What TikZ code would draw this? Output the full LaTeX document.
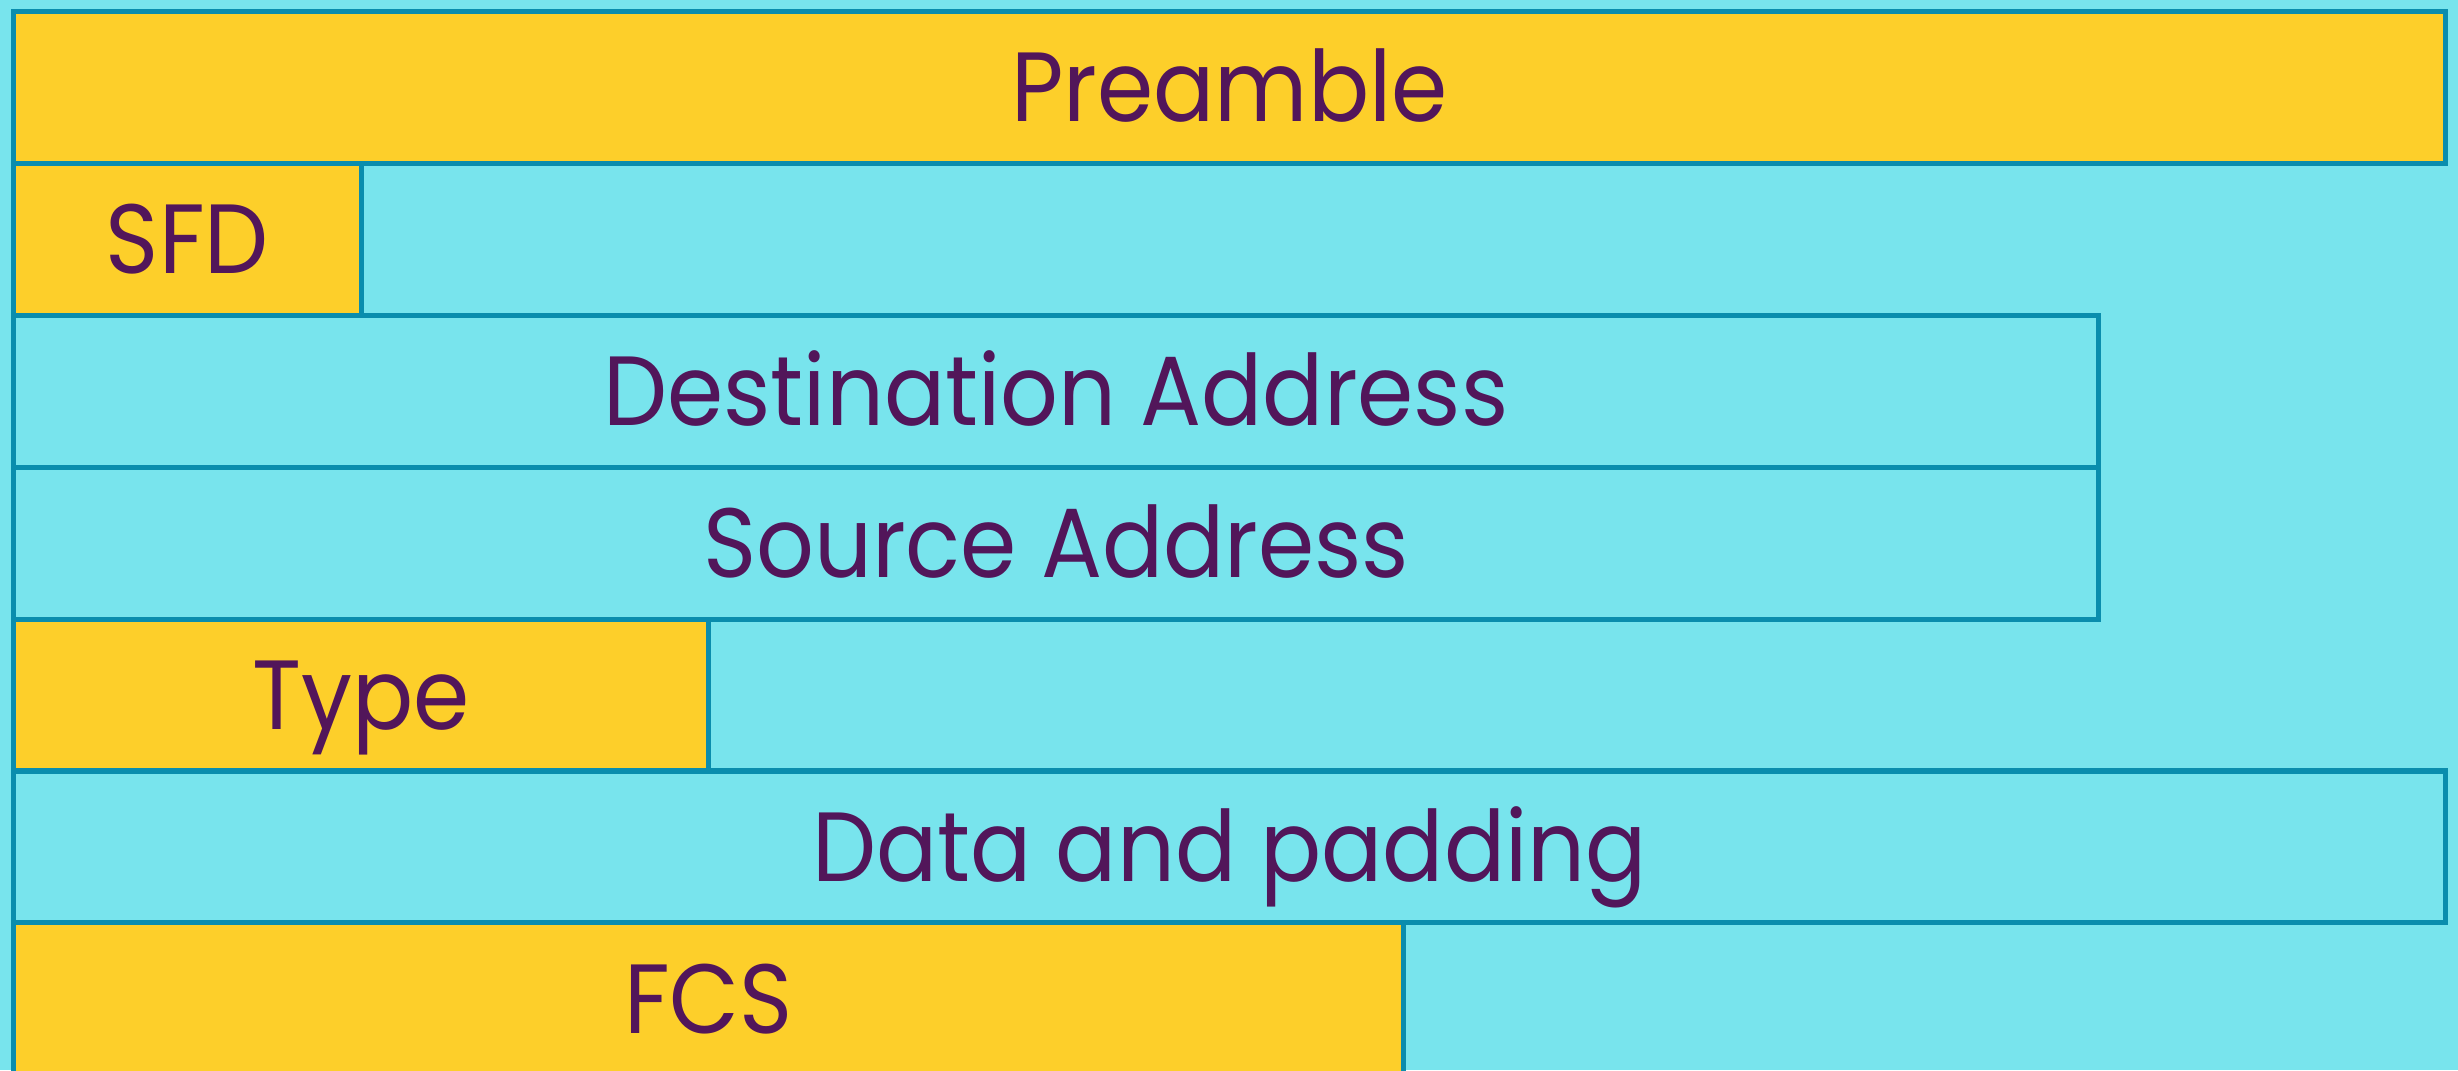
\documentclass[tikz,border=0pt]{standalone}
\usepackage{fontspec}
\setmainfont[FakeStretch=0.92]{Poppins}
\usetikzlibrary{positioning}

\definecolor{frameblue}{HTML}{0A8DAD}
\definecolor{fieldgold}{HTML}{FDCF2A}
\definecolor{fieldcyan}{HTML}{78E4ED}
\definecolor{labelpurple}{HTML}{52165A}

\tikzset{
    field/.style ={rectangle, draw=frameblue, line width=0.05cm, outer sep=0pt, inner sep=0pt,
        minimum height=1.519cm, text=labelpurple, font=\fontsize{28}{30}\selectfont,
        text height=0.69cm, text depth=0pt, anchor=north west},
    fixed/.style ={field, fill=fieldgold},
    var/.style ={field, fill=fieldcyan}
}

\begin{document}
\begin{tikzpicture}
    \useasboundingbox (0,0) rectangle (24.58,10.70);
    \clip (0,0) rectangle (24.58,10.70);
    \fill[fieldcyan] (0,0) rectangle (24.58,10.70);

    % frame fields, one row each
    \node[fixed, minimum width=24.32cm] (pre) at (0.135,10.585) {Preamble};
    \node[fixed, minimum width=3.475cm, below=0pt of pre.south west, anchor=north west] (sfd) {SFD};
    \node[var, minimum width=20.85cm, below=0pt of sfd.south west, anchor=north west] (dst) {Destination Address};
    \node[var, minimum width=20.85cm, below=0pt of dst.south west, anchor=north west] (src) {Source Address};
    \node[fixed, minimum width=6.95cm, below=0pt of src.south west, anchor=north west] (type) {Type};
    \node[var, minimum width=24.32cm, below=0pt of type.south west, anchor=north west] (data) {Data and padding};
    \node[fixed, minimum width=13.9cm, below=0pt of data.south west, anchor=north west] (fcs) {FCS};
\end{tikzpicture}
\end{document}
